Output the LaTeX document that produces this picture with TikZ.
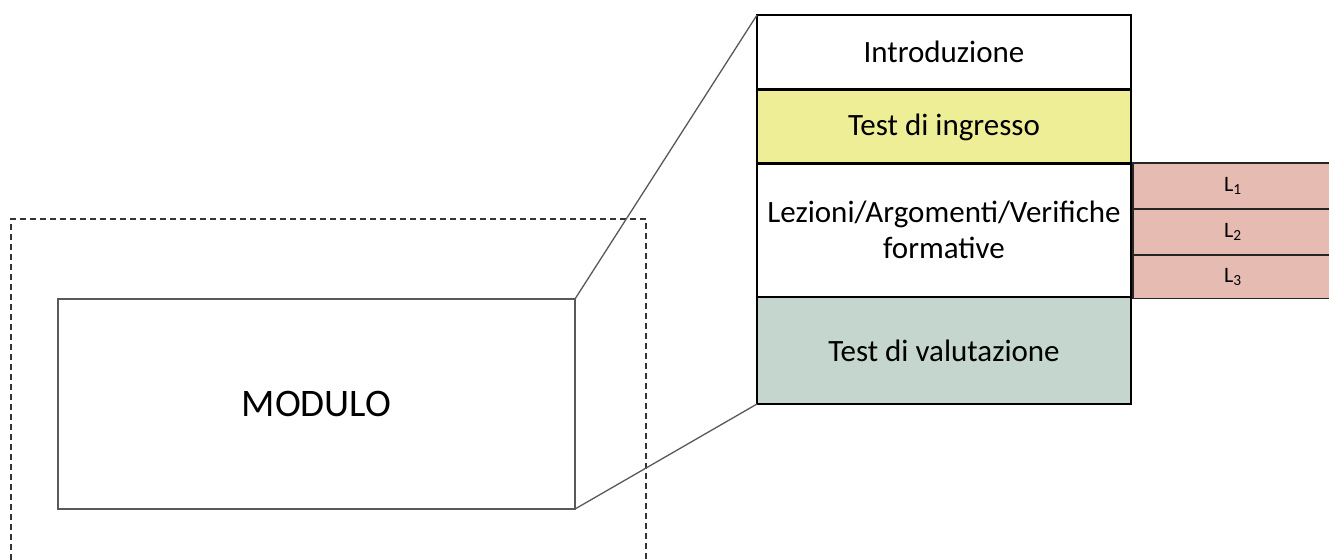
\documentclass[tikz,border=0pt]{standalone}
\usepackage{fontspec}
\setmainfont{Carlito}
\usepackage{tikz}
\usetikzlibrary{calc}

\definecolor{ingresso}{RGB}{238,238,150}
\definecolor{lezcol}{RGB}{230,188,178}
\definecolor{valcol}{RGB}{196,214,206}

\tikzset{
  blocco/.style={draw=black,line width=1.3pt,inner sep=0pt,outer sep=0pt,
    minimum width=374pt,align=center,font=\fontsize{31}{36}\selectfont},
  lbox/.style={draw=black!85,line width=1.3pt,fill=lezcol,inner sep=0pt,outer sep=0pt,
    minimum width=200pt,font=\fontsize{22}{24}\selectfont}
}

\begin{document}
\begin{tikzpicture}[x=1pt,y=-1pt]
            \useasboundingbox (0,0) rectangle (1329,559);
            \clip (0,0) rectangle (1329,559);
            \fill[white] (0,0) rectangle (1329,559);

            \draw[black!80,line width=1.4pt,dash pattern=on 6pt off 4pt] (11,570)--(11,219)--(646,219)--(646,570);

            \node[draw=black!65,line width=1.4pt,inner sep=0pt,outer sep=0pt,minimum width=517pt,minimum height=210pt,
                  font=\fontsize{39}{44}\selectfont] (modulo) at (316.5,404) {MODULO};

            \node[blocco,minimum height=74pt] (intro) at (944,52) {Introduzione};
            \node[blocco,fill=ingresso,minimum height=74pt] (ingresso) at (944,127) {Test di ingresso};
            \node[blocco,minimum height=134pt] (lezioni) at (944,230) {Lezioni/Argomenti/Verifiche\\formative};
            \node[blocco,fill=valcol,minimum height=107pt] (valutazione) at (944,350.5) {Test di valutazione};

            \foreach \i/\y in {1/186,2/232,3/277}{
                \node[lbox,minimum height={\i==3 ? 43 : 46}] (L\i) at (1233,\y) {L\textsubscript{\i}};
            }

            \draw[black!65,line width=1.3pt] (modulo.north east)--(intro.north west);
            \draw[black!65,line width=1.3pt] (modulo.south east)--(valutazione.south west);

        \end{tikzpicture}
\end{document}
